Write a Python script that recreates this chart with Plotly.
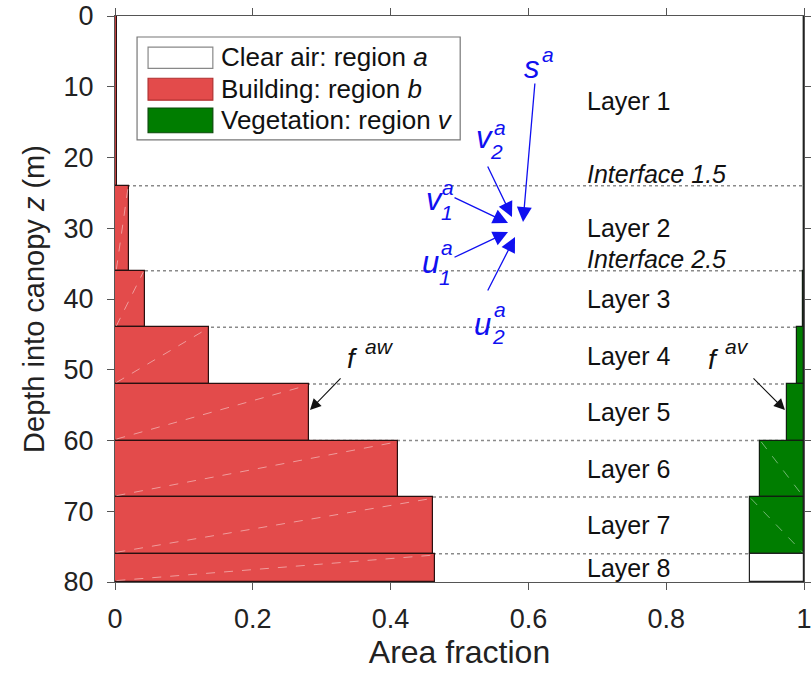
import plotly.graph_objects as go

# ---------------- data ----------------
layer_top = [0, 24, 36, 44, 52, 60, 68, 76]
layer_bottom = [24, 36, 44, 52, 60, 68, 76, 80]
layer_names = ["Layer 1", "Layer 2", "Layer 3", "Layer 4", "Layer 5", "Layer 6", "Layer 7", "Layer 8"]
building_frac = [0.003, 0.021, 0.043, 0.136, 0.281, 0.411, 0.461, 0.464]
vegetation_frac = [0.0, 0.0, 0.002, 0.010, 0.024, 0.064, 0.079, 0.0]
clear_box_frac = [0, 0, 0, 0, 0, 0, 0, 0.079]
interface_depths = [24, 36, 44, 52, 60, 68, 76]
interface_names = ["Interface 1.5", "Interface 2.5"]
legend_labels = ["Clear air: region <i>a</i>", "Building: region <i>b</i>", "Vegetation: region <i>v</i>"]
x_ticks = [0, 0.2, 0.4, 0.6, 0.8, 1]
x_ticktext = ["0", "0.2", "0.4", "0.6", "0.8", "1"]
y_ticks = [0, 10, 20, 30, 40, 50, 60, 70, 80]

RED = "#e34b4b"
GREEN = "#007d00"
BLUE = "#1010f0"
FONT = "Liberation Sans, Arial, Helvetica, sans-serif"

centers = [(a + b) / 2 for a, b in zip(layer_top, layer_bottom)]
thick = [b - a for a, b in zip(layer_top, layer_bottom)]

fig = go.Figure()
fig.add_trace(go.Bar(orientation="h", y=centers, x=building_frac, base=[0] * 8, width=thick,
                     marker=dict(color=RED, line=dict(color="#2a1010", width=1.2)), showlegend=False))
fig.add_trace(go.Bar(orientation="h", y=centers, x=vegetation_frac, base=[1 - v for v in vegetation_frac],
                     width=thick, marker=dict(color=GREEN, line=dict(color="#102010", width=1.2)),
                     showlegend=False))
fig.add_trace(go.Bar(orientation="h", y=centers, x=clear_box_frac, base=[1 - v for v in clear_box_frac],
                     width=thick, marker=dict(color="white", line=dict(color="#222", width=1.2)),
                     showlegend=False))

shapes = []
for d in interface_depths:
    shapes.append(dict(type="line", xref="x", yref="y", x0=0, x1=1, y0=d, y1=d, layer="below",
                       line=dict(color="#8a8a8a", width=1.5, dash="dot")))

# faint diagonal seams inside the filled patches (as in the reference rendering)
for top, bot, b in zip(layer_top, layer_bottom, building_frac):
    if b > 0.01:
        shapes.append(dict(type="line", xref="x", yref="y", x0=0.002, y0=bot - 0.2, x1=b - 0.002, y1=top + 0.2,
                           layer="above", opacity=0.45, line=dict(color="white", width=1, dash="dash")))
for top, bot, v in zip(layer_top, layer_bottom, vegetation_frac):
    if v > 0.03:
        shapes.append(dict(type="line", xref="x", yref="y", x0=1 - v + 0.002, y0=top + 0.2, x1=0.998,
                           y1=bot - 0.2, layer="above", opacity=0.45,
                           line=dict(color="white", width=1, dash="dash")))

# manual legend (box + swatches)
shapes.append(dict(type="rect", xref="x", yref="y", x0=0.032, x1=0.501, y0=2.97, y1=17.5,
                   fillcolor="white", line=dict(color="#777", width=1.2), layer="above"))
sw_rows = [(4.4, 7.4, "white", "#888"), (8.8, 11.9, RED, "#b03030"), (13.0, 16.5, GREEN, "#0a4a0a")]
for y0, y1, fc, lc in sw_rows:
    shapes.append(dict(type="rect", xref="x", yref="y", x0=0.048, x1=0.142, y0=y0, y1=y1,
                       fillcolor=fc, line=dict(color=lc, width=1.2), layer="above"))

ann = []
for lbl, yc in zip(legend_labels, [5.8, 10.3, 14.7]):
    ann.append(dict(x=0.151, y=yc, xref="x", yref="y", text=lbl, showarrow=False, xanchor="left",
                    yanchor="middle", font=dict(size=26, color="#111", family=FONT)))

# layer labels
for name, yc in zip(layer_names, centers):
    ann.append(dict(x=0.682, y=yc, xref="x", yref="y", text=name, showarrow=False, xanchor="left",
                    yanchor="middle", font=dict(size=25, color="#111", family=FONT)))
for name, d in zip(interface_names, interface_depths[:2]):
    ann.append(dict(x=0.682, y=d, xref="x", yref="y", text="<i>" + name + "</i>", showarrow=False,
                    xanchor="left", yanchor="bottom", yshift=-4,
                    font=dict(size=25, color="#111", family=FONT)))

# blue arrows (tail -> tip)
blue_arrows = [((0.6096, 9.33), (0.5922, 29.12)),
               ((0.5399, 21.06), (0.5762, 28.41)),
               ((0.4906, 25.58), (0.5704, 29.26)),
               ((0.4906, 34.20), (0.5704, 30.53)),
               ((0.5399, 39.01), (0.5806, 31.24))]
for (tx, ty), (hx, hy) in blue_arrows:
    ann.append(dict(x=hx, y=hy, ax=tx, ay=ty, xref="x", yref="y", axref="x", ayref="y", text="",
                    showarrow=True, arrowhead=2, arrowsize=2.3, arrowwidth=1.3, arrowcolor=BLUE,
                    standoff=0, startstandoff=0))

# blue symbol labels: (main letter, pos), (sup, pos), (sub, pos)
blue_labels = [("s", (0.6052, 7.21), "a", (0.6284, 5.51), None, None),
               ("v", (0.537, 17.24), "a", (0.5588, 15.69), "2", (0.5544, 19.22)),
               ("v", (0.4644, 26.0), "a", (0.4833, 24.31), "1", (0.4819, 27.84)),
               ("u", (0.4572, 34.91), "a", (0.4819, 32.79), "1", (0.4790, 37.03)),
               ("u", (0.5341, 43.67), "a", (0.5588, 41.55), "2", (0.5559, 45.37))]
for m, mp, sp_, spp, sb, sbp in blue_labels:
    ann.append(dict(x=mp[0], y=mp[1], xref="x", yref="y", text="<i>" + m + "</i>", showarrow=False,
                    font=dict(size=31, color=BLUE, family=FONT)))
    ann.append(dict(x=spp[0], y=spp[1], xref="x", yref="y", text="<i>" + sp_ + "</i>", showarrow=False,
                    font=dict(size=21, color=BLUE, family=FONT)))
    if sb:
        ann.append(dict(x=sbp[0], y=sbp[1], xref="x", yref="y", text="<i>" + sb + "</i>", showarrow=False,
                        font=dict(size=21, color=BLUE, family=FONT)))

# black f labels and arrows
f_labels = [("aw", (0.344, 48.34), (0.3846, 46.78), (0.3295, 51.02), (0.283, 55.69)),
            ("av", (0.868, 48.62), (0.9028, 46.78), (0.9245, 51.02), (0.9724, 55.69))]
for sup, fp, sp_, tail, tip in f_labels:
    ann.append(dict(x=fp[0], y=fp[1], xref="x", yref="y", text="<i>f</i>", showarrow=False,
                    font=dict(size=28, color="#111", family=FONT)))
    ann.append(dict(x=sp_[0], y=sp_[1], xref="x", yref="y", text="<i>" + sup + "</i>", showarrow=False,
                    font=dict(size=21, color="#111", family=FONT)))
    ann.append(dict(x=tip[0], y=tip[1], ax=tail[0], ay=tail[1], xref="x", yref="y", axref="x", ayref="y",
                    text="", showarrow=True, arrowhead=2, arrowsize=2.0, arrowwidth=1.1,
                    arrowcolor="#111", standoff=0))

fig.update_layout(
    width=811, height=674,
    margin=dict(l=115, r=7, t=16, b=92, autoexpand=False),
    plot_bgcolor="white", paper_bgcolor="white",
    barmode="overlay", bargap=0,
    shapes=shapes, annotations=ann, showlegend=False,
    font=dict(family=FONT, color="#222"),
    xaxis=dict(range=[0, 1], tickvals=x_ticks, ticktext=x_ticktext, ticks="outside", ticklen=7,
               tickcolor="#555", showline=True, linecolor="#555", linewidth=1, mirror="ticks",
               showgrid=False, zeroline=False, tickfont=dict(size=27, color="#222"),
               ticklabelstandoff=6, automargin=False, ticklabeloverflow="allow",
               title=dict(text="Area fraction", font=dict(size=32, color="#222"), standoff=4)),
    yaxis=dict(range=[80, 0], tickvals=y_ticks, ticks="outside", ticklen=7, tickcolor="#555",
               showline=True, linecolor="#555", linewidth=1, mirror="ticks", showgrid=False,
               zeroline=False, tickfont=dict(size=27, color="#222"), ticklabelstandoff=8,
               automargin=False, ticklabeloverflow="allow",
               title=dict(text="Depth into canopy <i>z</i> (m)", font=dict(size=29, color="#222"),
                          standoff=10)),
)

# remove the default 8px page margin so the figure sits at the window's top-left corner
fig.write_html("out.html", config={"displayModeBar": False},
               post_script="document.body.style.margin='0';document.body.style.overflow='hidden';")
